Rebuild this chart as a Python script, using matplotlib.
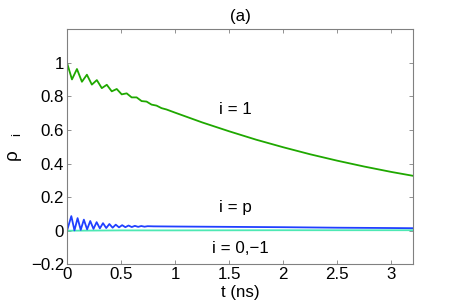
import numpy as np
import matplotlib
matplotlib.use("Agg")
import matplotlib.pyplot as plt

# ------------------------------
# data
# ------------------------------
# i = 1 (green): damped oscillation under a slow decay
t_one = [0, 0.046, 0.092, 0.138, 0.184, 0.230, 0.276, 0.322, 0.368, 0.414,
         0.460, 0.506, 0.552, 0.598, 0.644, 0.690, 0.736, 0.782, 0.828, 0.874,
         0.920, 1.0, 1.25, 1.5, 1.75, 2.0, 2.25, 2.5, 2.75, 3.0, 3.2]
rho_one = [1.0, 0.901, 0.963, 0.887, 0.929, 0.870, 0.897, 0.849, 0.869, 0.830,
           0.844, 0.812, 0.818, 0.794, 0.794, 0.772, 0.769, 0.751, 0.745, 0.730,
           0.722, 0.703, 0.645, 0.592, 0.542, 0.497, 0.455, 0.417, 0.382, 0.350, 0.327]

# i = p (blue)
t_p = [0, 0.040, 0.069, 0.098, 0.127, 0.156, 0.186, 0.215, 0.245, 0.274,
       0.304, 0.333, 0.363, 0.392, 0.422, 0.451, 0.481, 0.510, 0.540, 0.569,
       0.599, 0.628, 0.658, 0.687, 0.717, 0.746, 0.80, 1.0, 1.5, 2.0, 2.5, 3.0, 3.2]
rho_p = [0.0, 0.087, 0.002, 0.075, 0.005, 0.066, 0.008, 0.058, 0.011, 0.051,
         0.014, 0.045, 0.016, 0.040, 0.018, 0.036, 0.020, 0.033, 0.021, 0.031,
         0.022, 0.029, 0.023, 0.028, 0.024, 0.027, 0.026, 0.025, 0.023, 0.021, 0.018, 0.016, 0.015]

# i = 0,-1 (teal): flat near zero
t_zero = [0, 0.5, 1.0, 2.0, 3.2]
rho_zero = [0.0, 0.002, 0.002, 0.003, 0.003]

x_ticks = [0, 0.5, 1, 1.5, 2, 2.5, 3]
y_ticks = [-0.2, 0, 0.2, 0.4, 0.6, 0.8, 1]

# ------------------------------
# plot
# ------------------------------
plt.rcParams['font.family'] = ['Liberation Sans', 'DejaVu Sans']
plt.rcParams['mathtext.fontset'] = 'custom'
plt.rcParams['mathtext.rm'] = 'Liberation Sans'
plt.rcParams['mathtext.it'] = 'Liberation Sans'

fs = 12.2

fig = plt.figure(figsize=(4.57, 3.02), dpi=100)
ax = fig.add_axes([0.1466, 0.1248, 0.7571, 0.7785])

ax.plot(t_zero, rho_zero, color='#4ee8b4', lw=1.3)
ax.plot(t_p, rho_p, color='#2040ff', lw=1.3, solid_joinstyle='round')
ax.plot(t_one, rho_one, color='#1fa800', lw=1.3, solid_joinstyle='round')

ax.set_xlim(0, 3.2)
ax.set_ylim(-0.2, 1.2)
ax.set_xticks(x_ticks)
ax.set_xticklabels(['0', '0.5', '1', '1.5', '2', '2.5', '3'])
ax.set_yticks(y_ticks)
ax.set_yticklabels(['\u22120.2', '0', '0.2', '0.4', '0.6', '0.8', '1'])

for s in ax.spines.values():
    s.set_color('#808080')
    s.set_linewidth(0.8)
ax.tick_params(direction='in', length=3, width=0.6, color='#808080',
               top=True, right=True, labelsize=fs, pad=2)

ax.set_title('(a)', fontsize=fs, pad=6)
ax.set_xlabel('t (ns)', fontsize=fs, labelpad=2)
ax.set_ylabel(r'$\rho_{\ \ \ \ i}$', fontsize=fs + 1.5, labelpad=5)

ax.text(1.56, 0.724, 'i = 1', fontsize=fs, ha='center', va='center')
ax.text(1.56, 0.141, 'i = p', fontsize=fs, ha='center', va='center')
ax.text(1.6, -0.103, 'i = 0,\u22121', fontsize=fs, ha='center', va='center')

fig.savefig('out.png', dpi=100)
